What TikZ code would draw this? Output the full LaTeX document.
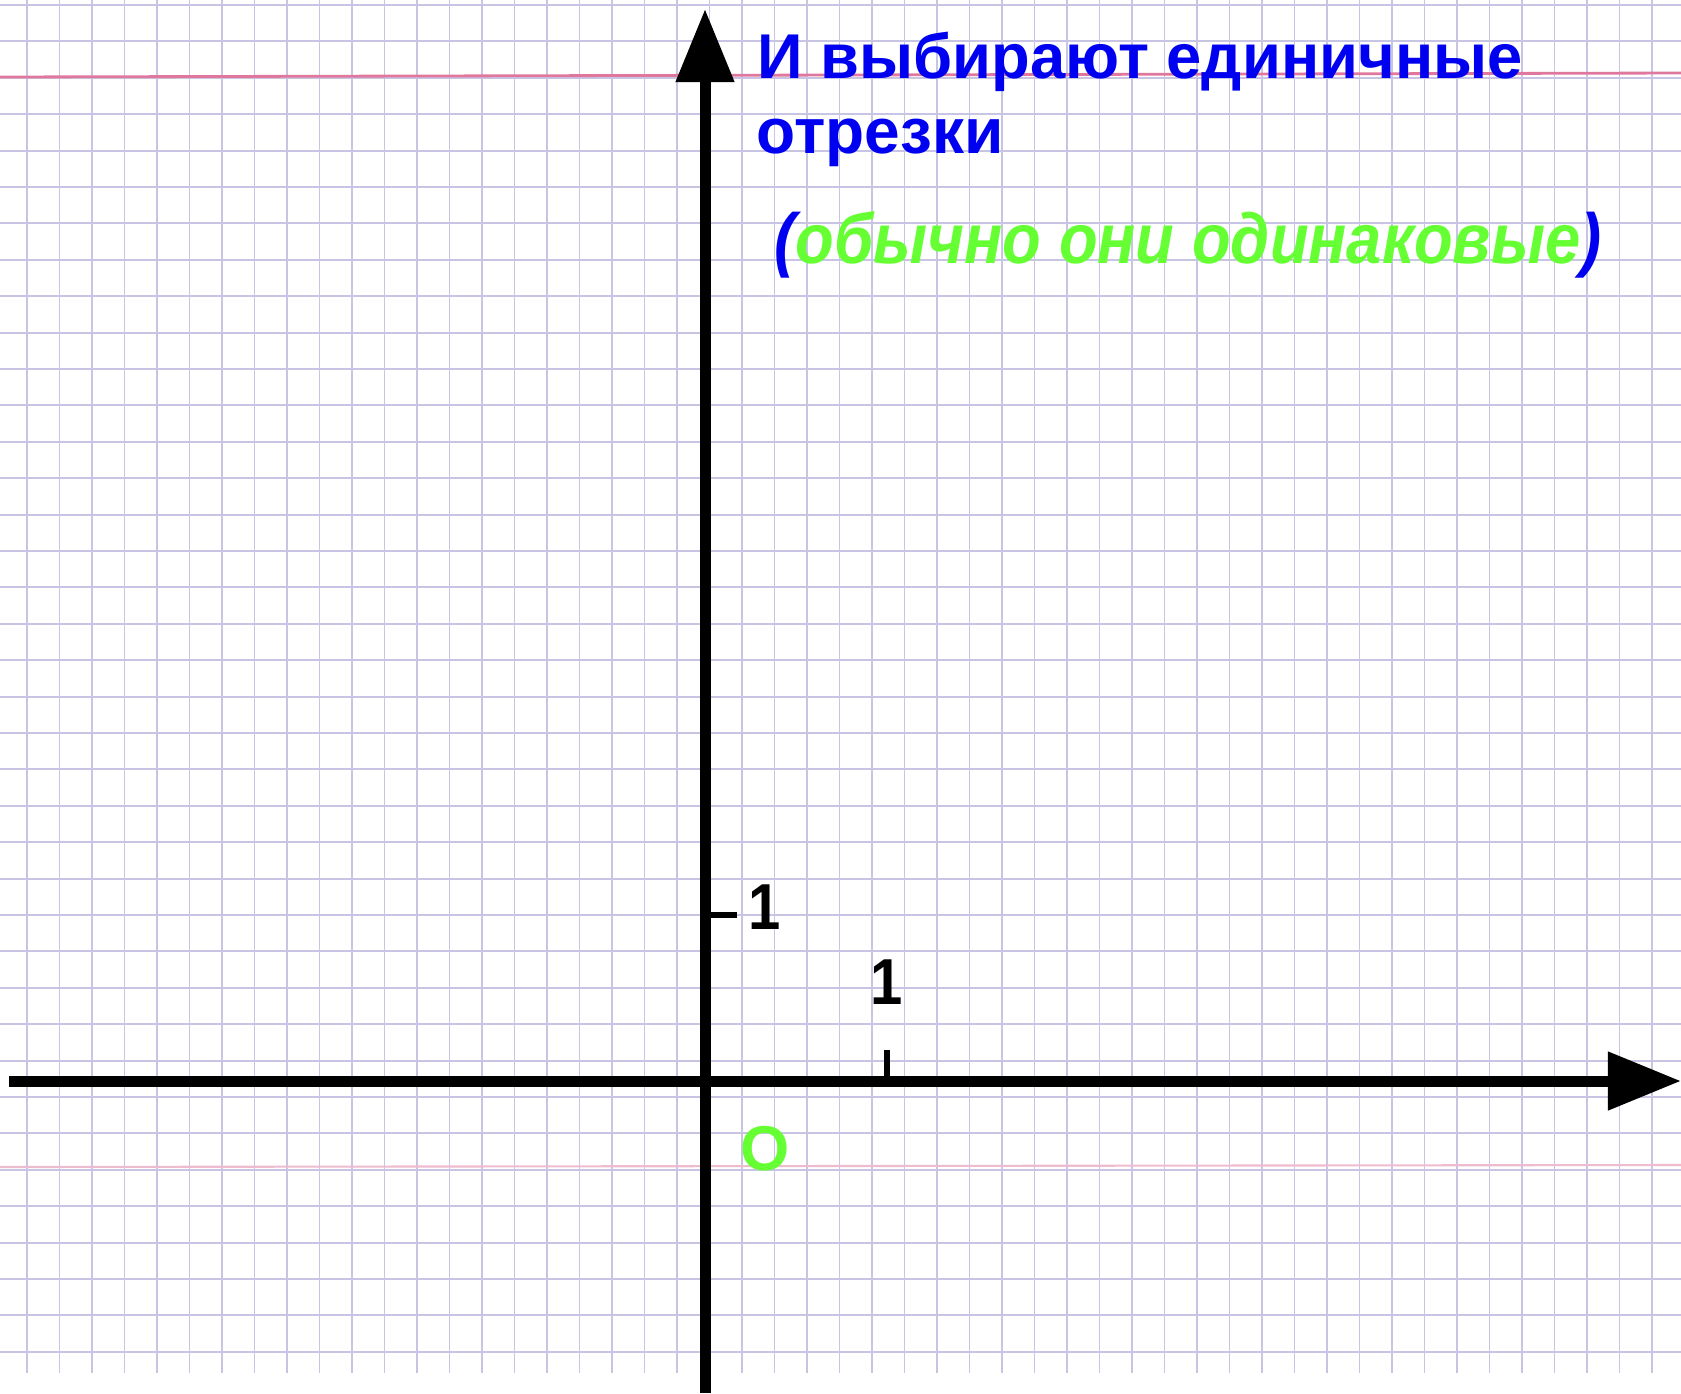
\documentclass[tikz,border=0pt]{standalone}
\usepackage{fontspec}
\setmainfont{Liberation Sans}
\usetikzlibrary{arrows.meta}
\definecolor{gridline}{RGB}{200,196,228}
\definecolor{marginred}{RGB}{224,120,158}
\definecolor{textblue}{RGB}{0,0,240}
\definecolor{textgreen}{RGB}{102,255,51}
\newcommand{\tallbox}[1]{\scalebox{1}[1.12]{#1}}
\tikzset{
  axisline/.style={line width=1.1mm, -{Triangle[length=7.3mm, width=5.6mm]}},
  tickmark/.style={line width=0.65mm},
  lbl/.style={inner sep=0pt, font=\bfseries\fontsize{16.5pt}{20pt}\selectfont}
}
\begin{document}
\begin{tikzpicture}[x=0.01cm, y=-0.01cm]
  \useasboundingbox (0,0) rectangle (1681,1393);
  \fill[white] (0,0) rectangle (1681,1393);
  % squared paper
  \foreach \k in {0,...,50} \draw[gridline, line width=0.55pt] (27+32.5*\k, 0) -- (27+32.5*\k, 1373);
  \foreach \k in {0,...,37} \draw[gridline, line width=0.55pt] (0, 5+36.4*\k) -- (1681, 5+36.4*\k);
  \draw[marginred, line width=0.8pt] (0,77) -- (1681,73);
  \draw[marginred!50, line width=0.6pt] (0,1167) -- (1681,1165);
  % axes
  \coordinate (xstart) at (9,1081);
  \coordinate (xend) at (1681,1081);
  \coordinate (ystart) at (705,1393);
  \coordinate (yend) at (705,9);
  \draw[axisline] (xstart) -- (xend);
  \draw[axisline] (ystart) -- (yend);
  % unit ticks
  \coordinate (ytick0) at (705,915); \coordinate (ytick1) at (737,915);
  \coordinate (xtick0) at (887,1081); \coordinate (xtick1) at (887,1050);
  \draw[tickmark] (ytick0) -- (ytick1);
  \draw[tickmark] (xtick0) -- (xtick1);
  \node[lbl] (yone) at (765,907) {\tallbox{1}};
  \node[lbl] (xone) at (887,982) {\tallbox{1}};
  \node[lbl, text=textgreen, font=\bfseries\fontsize{18pt}{20pt}\selectfont] (origin) at (765,1149) {О};
  % text
  \node[lbl, anchor=base west, text=textblue, font=\bfseries\fontsize{18pt}{22pt}\selectfont] (title) at (757,78) {И выбирают единичные};
  \node[lbl, anchor=base west, text=textblue, font=\bfseries\fontsize{18.2pt}{22pt}\selectfont] (title2) at (756,153) {отрезки};
  \node[lbl, anchor=base west, font=\bfseries\itshape\fontsize{18pt}{22pt}\selectfont] (note) at (774,263)
    {\tallbox{\textcolor{textblue}{(}\textcolor{textgreen}{обычно они одинаковые}\textcolor{textblue}{)}}};
\end{tikzpicture}
\end{document}
